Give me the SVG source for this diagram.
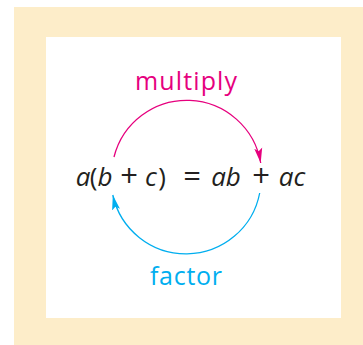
<svg xmlns="http://www.w3.org/2000/svg" width="363" height="345" viewBox="0 0 363 345">
<defs>
<style>
.lbl{font-family:"Open Sans","Liberation Sans",sans-serif;font-size:25px}
.eq{font-family:"Open Sans","Liberation Sans",sans-serif;font-size:26px;fill:#231F20;text-anchor:middle}
.it{font-style:italic}
.op{font-size:31px}
.arc{fill:none;stroke-width:1.3}
</style>
<marker id="ahM" markerUnits="userSpaceOnUse" markerWidth="16" markerHeight="10" refX="15" refY="5" orient="auto">
<path d="M0,1 L15,5 L0,9 L3,5 Z" fill="#E6007E"/>
</marker>
<marker id="ahB" markerUnits="userSpaceOnUse" markerWidth="16" markerHeight="10" refX="15" refY="5" orient="auto">
<path d="M0,1 L15,5 L0,9 L3,5 Z" fill="#00AEEF"/>
</marker>
</defs>
<rect x="14" y="7" width="349" height="338" fill="#FDEDC9"/>
<rect x="46" y="37" width="295" height="281" fill="#FFFFFF"/>
<g id="connectors">
<path class="arc" d="M 114 157 A 75 75 0 0 1 260.7 163" stroke="#E6007E" marker-end="url(#ahM)"/>
<path class="arc" d="M 259.7 193 A 75 75 0 0 1 112.8 195" stroke="#00AEEF" marker-end="url(#ahB)"/>
</g>
<g id="multiply"><text class="lbl" x="135" y="90" fill="#E6007E" textLength="102" lengthAdjust="spacing">multiply</text></g>
<g id="factor"><text class="lbl" x="150" y="285" fill="#00AEEF" textLength="72" lengthAdjust="spacing">factor</text></g>
<g id="equation"><text class="eq" y="186"><tspan class="it" x="83">a</tspan><tspan x="93.5">(</tspan><tspan class="it" x="105">b</tspan><tspan class="op" x="129" y="187">+</tspan><tspan class="it" x="151" y="186">c</tspan><tspan x="162">)</tspan><tspan class="op" x="192" y="187">=</tspan><tspan class="it" x="226" y="186">ab</tspan><tspan class="op" x="261" y="187">+</tspan><tspan class="it" x="292" y="186">ac</tspan></text></g>
</svg>
